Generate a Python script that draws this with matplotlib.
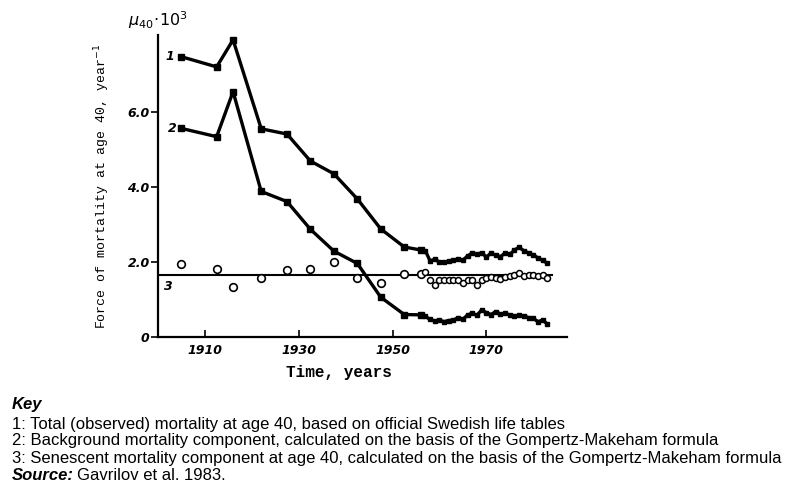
import matplotlib
matplotlib.use('Agg')
import matplotlib.pyplot as plt
import numpy as np

# curve 1: total observed mortality at age 40 (x 10^3)
years_early = [1905, 1912.5, 1916, 1922, 1927.5, 1932.5, 1937.5, 1942.5, 1947.5, 1952.5, 1956]
total_early = [7.47, 7.20, 7.92, 5.55, 5.41, 4.69, 4.35, 3.68, 2.88, 2.40, 2.32]
# curve 2: background component
backgr_early = [5.56, 5.34, 6.54, 3.88, 3.61, 2.87, 2.29, 1.96, 1.06, 0.60, 0.59]
# circles: senescent component
senesc_early = [1.95, 1.81, 1.32, 1.58, 1.79, 1.81, 1.99, 1.58, 1.45, 1.67, 1.67]

years_late = list(range(1957, 1984))
total_late = [2.30, 2.03, 2.07, 2.00, 2.00, 2.02, 2.05, 2.08, 2.05, 2.16, 2.24, 2.20, 2.25, 2.13,
              2.24, 2.18, 2.14, 2.24, 2.20, 2.32, 2.39, 2.30, 2.24, 2.19, 2.11, 2.04, 1.97]
backgr_late = [0.55, 0.47, 0.43, 0.45, 0.41, 0.44, 0.45, 0.52, 0.47, 0.59, 0.63, 0.58, 0.72, 0.65,
               0.60, 0.68, 0.61, 0.63, 0.59, 0.56, 0.58, 0.56, 0.52, 0.50, 0.41, 0.45, 0.35]
senesc_late = [1.74, 1.52, 1.39, 1.52, 1.52, 1.52, 1.52, 1.52, 1.45, 1.52, 1.52, 1.39, 1.52, 1.56,
               1.61, 1.56, 1.54, 1.59, 1.63, 1.65, 1.70, 1.63, 1.65, 1.65, 1.62, 1.65, 1.56]
senesc_mean = 1.66

fig = plt.figure(figsize=(7.89, 4.91), dpi=100)
ax = fig.add_axes([0.2003, 0.3136, 0.5183, 0.6151])

# thick lines with small square markers, denser yearly part after 1956
ax.plot(years_early + years_late, total_early + total_late, color='black', lw=2.4)
ax.plot(years_early + years_late, backgr_early + backgr_late, color='black', lw=2.4)
ax.plot(years_early, total_early, ls='none', marker='s', ms=4.5, color='black')
ax.plot(years_early, backgr_early, ls='none', marker='s', ms=4.5, color='black')
ax.plot(years_late, total_late, ls='none', marker='s', ms=3.2, color='black')
ax.plot(years_late, backgr_late, ls='none', marker='s', ms=3.2, color='black')

ax.plot([1900, 1984], [senesc_mean, senesc_mean], color='black', lw=1.5)
ax.plot(years_early, senesc_early, ls='none', marker='o', ms=5.5, mfc='white', mec='black', mew=1.2)
ax.plot(years_late, senesc_late, ls='none', marker='o', ms=4.3, mfc='white', mec='black', mew=1.1)

ax.set_xlim(1900, 1987.2)
ax.set_ylim(0, 8.05)
for s in ['top', 'right']:
    ax.spines[s].set_visible(False)
ax.spines['left'].set_linewidth(1.6)
ax.spines['bottom'].set_linewidth(1.6)

ax.set_xticks([1910, 1930, 1950, 1970])
ax.set_yticks([0, 2, 4, 6])
ax.set_yticklabels(['0', '2.0', '4.0', '6.0'])
ax.tick_params(axis='x', direction='in', length=5, width=1.2, pad=5)
ax.tick_params(axis='y', direction='out', length=5, width=1.2, pad=1)
for lab in ax.get_xticklabels() + ax.get_yticklabels():
    lab.set_fontstyle('italic')
    lab.set_fontweight('bold')
    lab.set_fontsize(9)

ax.set_ylabel('Force of mortality at age 40, year$^{-1}$', family='Liberation Mono',
              fontsize=9.5, labelpad=11)
fig.text(339 / 789, 1 - 373 / 491, 'Time, years', family='Liberation Mono', fontweight='bold',
         fontsize=11.5, ha='center', va='center')

ax.text(1902.6, 7.47, '1', style='italic', fontweight='bold', fontsize=9, ha='center', va='center')
ax.text(1903.0, 5.55, '2', style='italic', fontweight='bold', fontsize=9, ha='center', va='center')
ax.text(1902.3, 1.35, '3', style='italic', fontweight='bold', fontsize=9, ha='center', va='center')
fig.text(128 / 789, 1 - 20 / 491, r'$\mu_{40}\!\cdot\!10^3$', fontsize=11.5, style='italic', va='center')

key_font = 'Liberation Sans'
key_size = 12
fig.text(12 / 789, 1 - 405 / 491, 'Key', family=key_font, fontsize=key_size, style='italic',
         fontweight='bold', va='center')
key_lines = ['1: Total (observed) mortality at age 40, based on official Swedish life tables',
             '2: Background mortality component, calculated on the basis of the Gompertz-Makeham formula',
             '3: Senescent mortality component at age 40, calculated on the basis of the Gompertz-Makeham formula']
for i, line in enumerate(key_lines):
    fig.text(12 / 789, 1 - (424 + 17 * i) / 491, line, family=key_font, fontsize=key_size, va='center')
fig.text(12 / 789, 1 - 475 / 491, 'Source:', family=key_font, fontsize=key_size, style='italic',
         fontweight='bold', va='center')
fig.text(77 / 789, 1 - 475 / 491, 'Gavrilov et al. 1983.', family=key_font, fontsize=key_size, va='center')

fig.savefig('out.png', dpi=100)
